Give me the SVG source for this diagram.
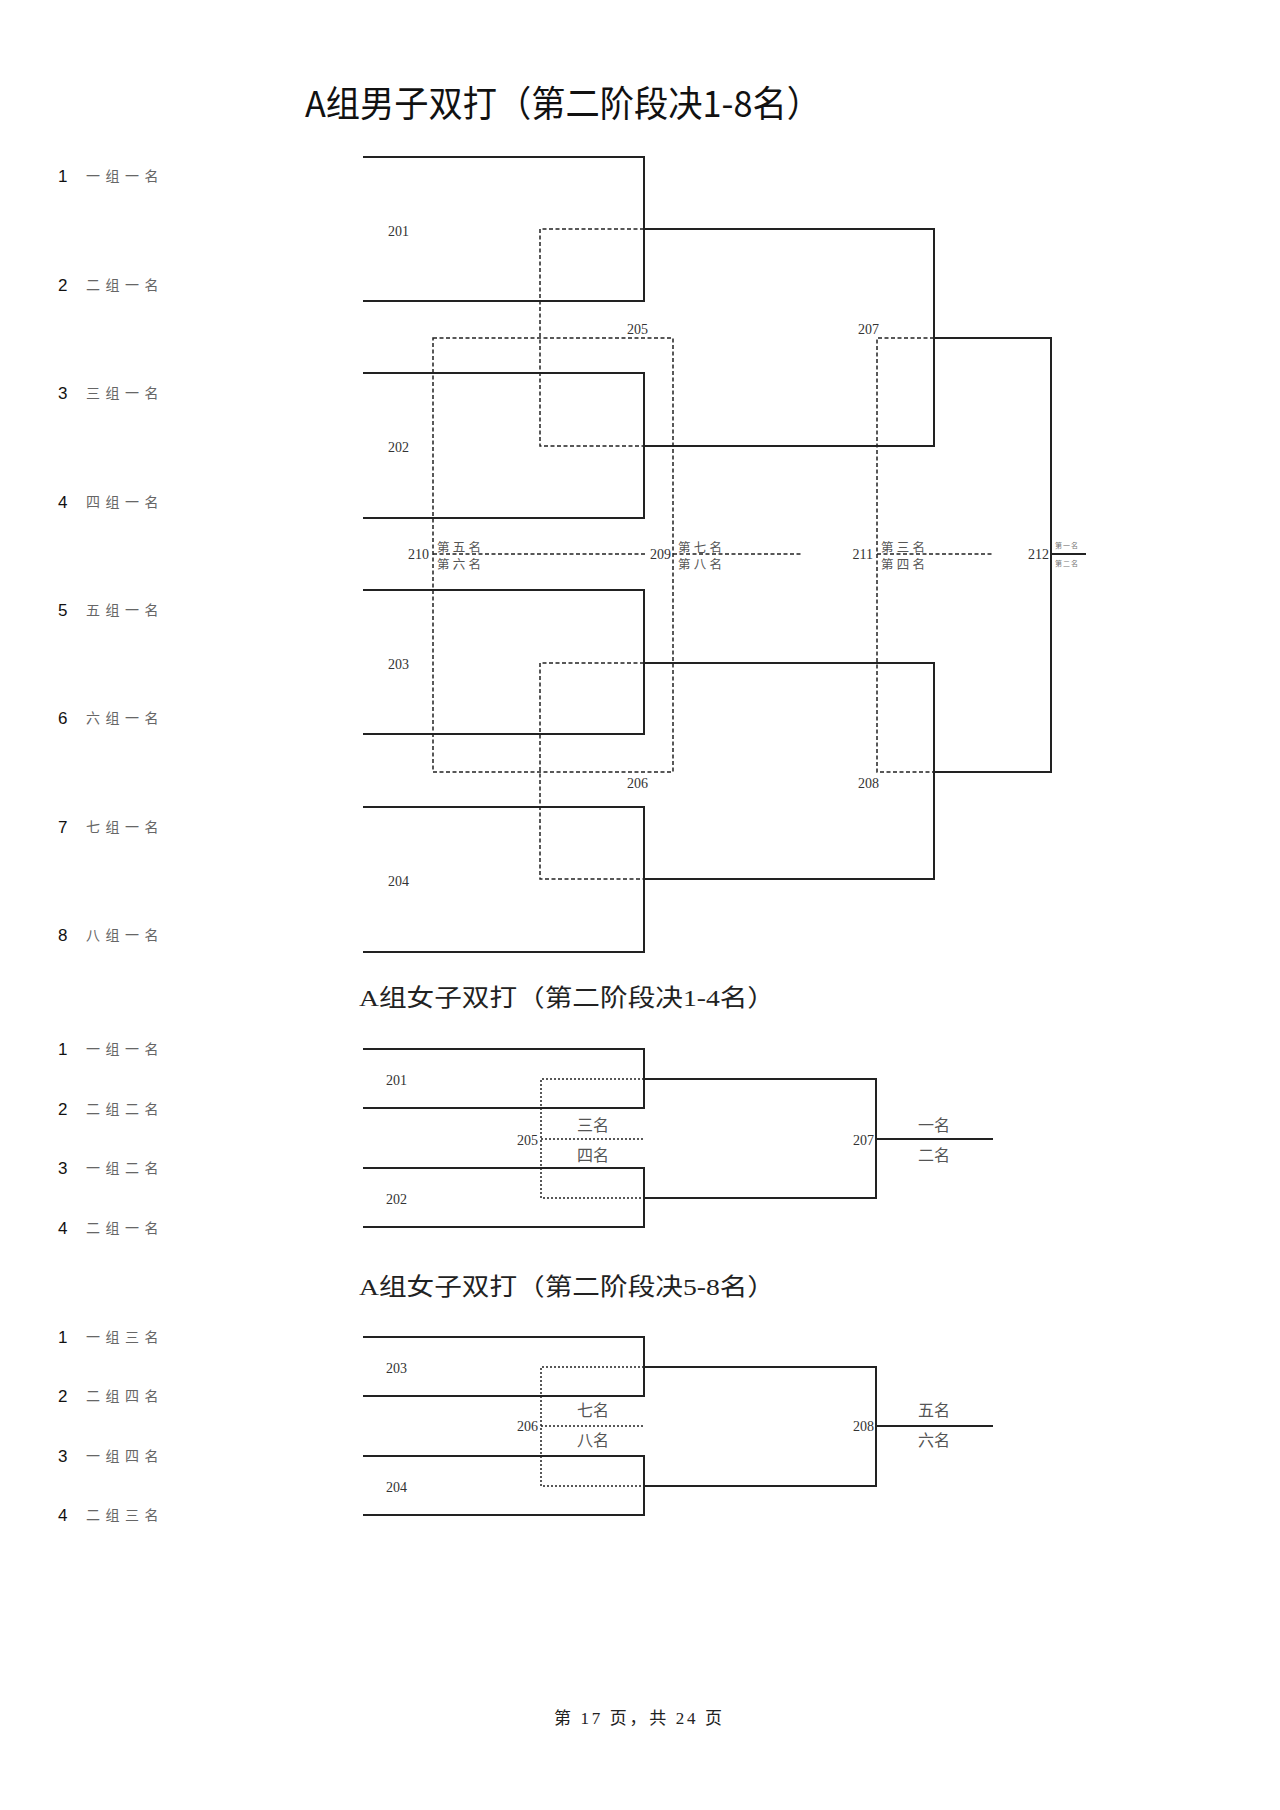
<svg xmlns="http://www.w3.org/2000/svg" width="1280" height="1810" viewBox="0 0 1280 1810">
<style>
.bg{fill:#fff}
.ttl{font-family:"Noto Sans CJK SC","Liberation Sans",sans-serif;font-size:36px;fill:#111}
.ttl2{font-family:"Liberation Serif","Noto Sans CJK SC",serif;font-size:24px;fill:#222}
.num{font-family:"Liberation Sans",sans-serif;font-size:17px;fill:#111}
.lbl{font-family:"Noto Sans CJK SC",sans-serif;font-size:14px;letter-spacing:5.5px;fill:#666}
.mid{font-family:"Liberation Serif",serif;font-size:14px;fill:#333}
.rk{font-family:"Noto Sans CJK SC",sans-serif;font-size:12.5px;letter-spacing:3.3px;fill:#555}
.rk2{font-family:"Noto Sans CJK SC",sans-serif;font-size:16px;fill:#555}
.tiny{font-family:"Noto Sans CJK SC",sans-serif;font-size:7px;letter-spacing:1px;fill:#777}
.foot{font-family:"Liberation Serif","Noto Sans CJK SC",serif;font-size:17px;fill:#222}
.solid{stroke:#222;stroke-width:2;fill:none}
.dash{stroke:#222;stroke-width:1.5;stroke-dasharray:4 2.5;fill:none}
.dot{stroke:#222;stroke-width:1.5;stroke-dasharray:2 2;fill:none}
</style>
<rect class="bg" x="0" y="0" width="1280" height="1810"/>

<g id="titles">
<text class="ttl" x="305" y="117" textLength="516" lengthAdjust="spacingAndGlyphs">A组男子双打（第二阶段决1-8名）</text>
<text class="ttl2" x="359" y="1006" textLength="416" lengthAdjust="spacingAndGlyphs">A组女子双打（第二阶段决1-4名）</text>
<text class="ttl2" x="359" y="1295" textLength="416" lengthAdjust="spacingAndGlyphs">A组女子双打（第二阶段决5-8名）</text>
</g>

<g id="men-entries">
<g id="m-e1"><text class="num" x="58" y="182">1</text><text class="lbl" x="86" y="181">一组一名</text></g>
<g id="m-e2"><text class="num" x="58" y="291">2</text><text class="lbl" x="86" y="290">二组一名</text></g>
<g id="m-e3"><text class="num" x="58" y="399">3</text><text class="lbl" x="86" y="398">三组一名</text></g>
<g id="m-e4"><text class="num" x="58" y="508">4</text><text class="lbl" x="86" y="507">四组一名</text></g>
<g id="m-e5"><text class="num" x="58" y="616">5</text><text class="lbl" x="86" y="615">五组一名</text></g>
<g id="m-e6"><text class="num" x="58" y="724">6</text><text class="lbl" x="86" y="723">六组一名</text></g>
<g id="m-e7"><text class="num" x="58" y="833">7</text><text class="lbl" x="86" y="832">七组一名</text></g>
<g id="m-e8"><text class="num" x="58" y="941">8</text><text class="lbl" x="86" y="940">八组一名</text></g>
</g>

<g id="men-connectors">
<path class="solid" d="M363 157 H644 V301 H363"/>
<path class="solid" d="M363 373 H644 V518 H363"/>
<path class="solid" d="M363 590 H644 V734 H363"/>
<path class="solid" d="M363 807 H644 V952 H363"/>
<path class="dash" d="M644 229 H540 V446 H644"/>
<path class="dash" d="M644 663 H540 V879 H644"/>
<path class="solid" d="M644 229 H934 V446 H644"/>
<path class="solid" d="M644 663 H934 V879 H644"/>
<path class="dash" d="M433 338 H673 V772 H433 Z"/>
<path class="dash" d="M934 338 H877 V772 H934"/>
<path class="solid" d="M934 338 H1051 V772 H934"/>
<path class="solid" d="M1051 554 H1086"/>
<path class="dash" d="M433 554 H645"/>
<path class="dash" d="M673 554 H803"/>
<path class="dash" d="M877 554 H993"/>
</g>

<g id="men-matches">
<text class="mid" x="388" y="236">201</text>
<text class="mid" x="388" y="452">202</text>
<text class="mid" x="388" y="669">203</text>
<text class="mid" x="388" y="886">204</text>
<text class="mid" x="627" y="334">205</text>
<text class="mid" x="627" y="788">206</text>
<text class="mid" x="858" y="334">207</text>
<text class="mid" x="858" y="788">208</text>
<g id="m-210"><text class="mid" x="429" y="559" text-anchor="end">210</text><text class="rk" x="437" y="551.5">第五名</text><text class="rk" x="437" y="568.5">第六名</text></g>
<g id="m-209"><text class="mid" x="671" y="559" text-anchor="end">209</text><text class="rk" x="678" y="551.5">第七名</text><text class="rk" x="678" y="568.5">第八名</text></g>
<g id="m-211"><text class="mid" x="873" y="559" text-anchor="end">211</text><text class="rk" x="881" y="551.5">第三名</text><text class="rk" x="881" y="568.5">第四名</text></g>
<g id="m-212"><text class="mid" x="1049" y="559" text-anchor="end">212</text><text class="tiny" x="1055" y="548">第一名</text><text class="tiny" x="1055" y="566">第二名</text></g>
</g>

<g id="women1-entries">
<g id="w1-e1"><text class="num" x="58" y="1055">1</text><text class="lbl" x="86" y="1054">一组一名</text></g>
<g id="w1-e2"><text class="num" x="58" y="1115">2</text><text class="lbl" x="86" y="1114">二组二名</text></g>
<g id="w1-e3"><text class="num" x="58" y="1174">3</text><text class="lbl" x="86" y="1173">一组二名</text></g>
<g id="w1-e4"><text class="num" x="58" y="1234">4</text><text class="lbl" x="86" y="1233">二组一名</text></g>
</g>

<g id="women1-connectors">
<path class="solid" d="M363 1049 H644 V1108 H363"/>
<path class="solid" d="M363 1168 H644 V1227 H363"/>
<path class="dot" d="M644 1079 H541 V1198 H644"/>
<path class="dot" d="M541 1139 H645"/>
<path class="solid" d="M644 1079 H876 V1198 H644"/>
<path class="solid" d="M876 1139 H993"/>
</g>

<g id="women1-matches">
<text class="mid" x="386" y="1085">201</text>
<text class="mid" x="386" y="1204">202</text>
<g id="w1-205"><text class="mid" x="538" y="1145" text-anchor="end">205</text><text class="rk2" x="577" y="1131">三名</text><text class="rk2" x="577" y="1161">四名</text></g>
<g id="w1-207"><text class="mid" x="874" y="1145" text-anchor="end">207</text><text class="rk2" x="918" y="1131">一名</text><text class="rk2" x="918" y="1161">二名</text></g>
</g>

<g id="women2-entries">
<g id="w2-e1"><text class="num" x="58" y="1343">1</text><text class="lbl" x="86" y="1342">一组三名</text></g>
<g id="w2-e2"><text class="num" x="58" y="1402">2</text><text class="lbl" x="86" y="1401">二组四名</text></g>
<g id="w2-e3"><text class="num" x="58" y="1462">3</text><text class="lbl" x="86" y="1461">一组四名</text></g>
<g id="w2-e4"><text class="num" x="58" y="1521">4</text><text class="lbl" x="86" y="1520">二组三名</text></g>
</g>

<g id="women2-connectors">
<path class="solid" d="M363 1337 H644 V1396 H363"/>
<path class="solid" d="M363 1456 H644 V1515 H363"/>
<path class="dot" d="M644 1367 H541 V1486 H644"/>
<path class="dot" d="M541 1426 H645"/>
<path class="solid" d="M644 1367 H876 V1486 H644"/>
<path class="solid" d="M876 1426 H993"/>
</g>

<g id="women2-matches">
<text class="mid" x="386" y="1373">203</text>
<text class="mid" x="386" y="1492">204</text>
<g id="w2-206"><text class="mid" x="538" y="1431" text-anchor="end">206</text><text class="rk2" x="577" y="1416">七名</text><text class="rk2" x="577" y="1446">八名</text></g>
<g id="w2-208"><text class="mid" x="874" y="1431" text-anchor="end">208</text><text class="rk2" x="918" y="1416">五名</text><text class="rk2" x="918" y="1446">六名</text></g>
</g>

<text class="foot" x="554" y="1724" textLength="168" lengthAdjust="spacing">第 17 页，共 24 页</text>
</svg>
